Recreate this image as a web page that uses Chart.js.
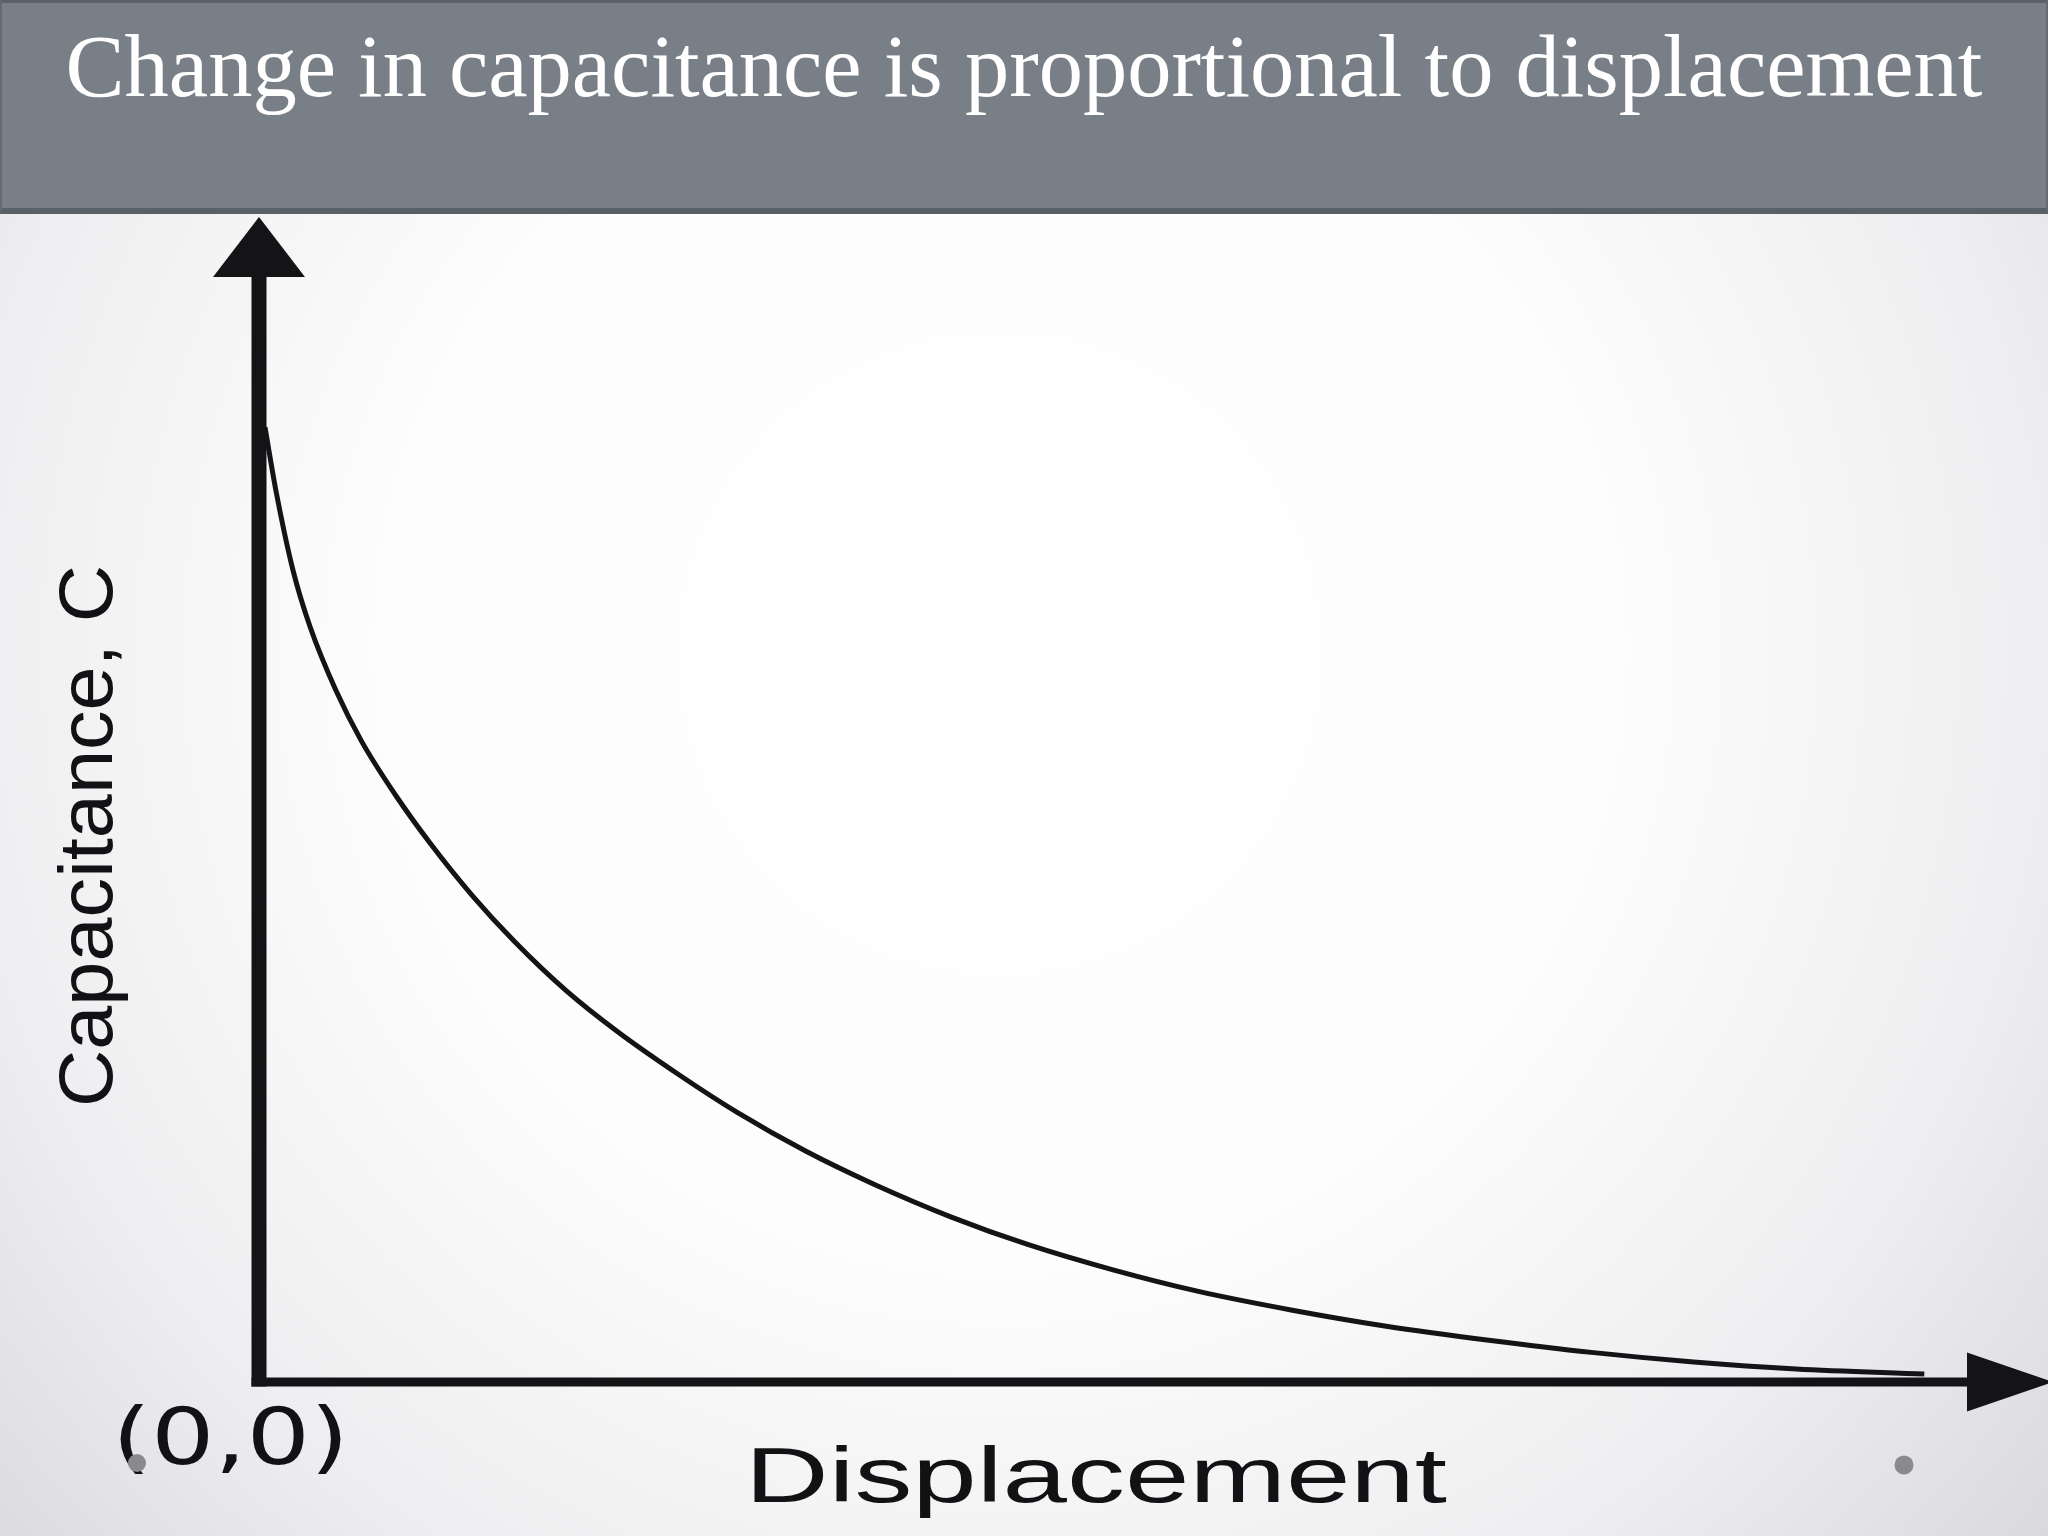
<!DOCTYPE html>
<html>
<head>
<meta charset="utf-8">
<script src="https://cdn.jsdelivr.net/npm/chart.js@4.4.0/dist/chart.umd.min.js"></script>
<style>
  html, body { margin: 0; padding: 0; width: 2048px; height: 1536px; overflow: hidden; background: #fff; }
  #slide { position: relative; width: 2048px; height: 1536px; }
  #titleBar {
    position: absolute; left: 0; top: 0; width: 2048px; height: 214px;
    box-sizing: border-box;
    background: #787f87;
    border-top: 3px solid #5b6168;
    border-bottom: 6px solid #596067;
    border-left: 2px solid #646a71;
    border-right: 2px solid #646a71;
    color: #ffffff;
    font-family: "Liberation Serif", "DejaVu Serif", serif;
    font-size: 88.5px;
    line-height: 88px;
    padding-top: 19px;
    text-align: center;
    white-space: nowrap;
    z-index: 2;
  }
  #chart3 { position: absolute; left: 0; top: 0; }
</style>
</head>
<body>
<div id="slide">
  <div id="titleBar">Change in capacitance is proportional to displacement</div>
  <canvas id="chart3" width="2048" height="1536"></canvas>
</div>
<script>
// displacement (0..100) and capacitance (0..100)
var displacement = [0.35, 1, 2, 3, 4.5, 6, 8, 10, 12.5, 15, 18, 21, 24.5, 28, 32, 36, 40.5, 45, 50, 55, 60.5, 66, 72, 78, 84, 90, 97.5];
var capacitance  = [86.4, 80.6, 73.4, 68.3, 62.6, 58.0, 53.1, 48.8, 44.0, 39.8, 35.4, 31.7, 27.9, 24.4, 20.9, 17.9, 14.95, 12.45, 10.15, 8.2, 6.5, 5.05, 3.78, 2.68, 1.81, 1.18, 0.72];

var yLabel = 'Capacitance, C';
var xLabel = 'Displacement';
var originLabel = '(0,0)';

var points = displacement.map(function(d, i) { return {x: d, y: capacitance[i]} });

// slide background
var backdrop = {
  id: 'backdrop',
  beforeDraw: function(chart) {
    var ctx = chart.ctx;
    var g = ctx.createRadialGradient(1000, 650, 0, 1000, 650, 1450);
    g.addColorStop(0, '#ffffff');
    g.addColorStop(0.42, '#fdfdfe');
    g.addColorStop(0.72, '#eeeef0');
    g.addColorStop(1, '#d5d5d8');
    ctx.save();
    ctx.fillStyle = g;
    ctx.fillRect(0, 0, chart.width, chart.height);
    ctx.restore();
  }
};

// thick axes with arrow heads, placed from the scales
var arrowAxes = {
  id: 'arrowAxes',
  afterDatasetsDraw: function(chart) {
    var ctx = chart.ctx;
    var xs = chart.scales.x, ys = chart.scales.y;
    var x0 = xs.getPixelForValue(0), y0 = ys.getPixelForValue(0);
    var xEnd = xs.getPixelForValue(100), yEnd = ys.getPixelForValue(100);
    ctx.save();
    ctx.fillStyle = '#141416';
    // y shaft + head
    ctx.fillRect(x0 - 7.5, yEnd, 15, y0 + 4.5 - yEnd);
    ctx.beginPath();
    ctx.moveTo(x0 - 46, yEnd);
    ctx.lineTo(x0 + 46, yEnd);
    ctx.lineTo(x0, yEnd - 60);
    ctx.closePath();
    ctx.fill();
    // x shaft + head
    ctx.fillRect(x0 - 7.5, y0 - 4.5, xEnd - x0 + 7.5, 9);
    ctx.beginPath();
    ctx.moveTo(xEnd, y0 - 29.5);
    ctx.lineTo(xEnd, y0 + 29.5);
    ctx.lineTo(xEnd + 86, y0);
    ctx.closePath();
    ctx.fill();
    ctx.restore();
  }
};

function stretchText(ctx, text, x, y, width) {
  var w = ctx.measureText(text).width;
  ctx.save();
  ctx.translate(x, y);
  ctx.scale(width / w, 1);
  ctx.fillText(text, 0, 0);
  ctx.restore();
}

var labels = {
  id: 'labels',
  afterDraw: function(chart) {
    var ctx = chart.ctx;
    ctx.save();
    ctx.fillStyle = '#121214';
    ctx.textBaseline = 'alphabetic';
    ctx.textAlign = 'left';

    // y label, rotated
    ctx.save();
    ctx.translate(112, 1107);
    ctx.rotate(-Math.PI / 2);
    ctx.font = '76px "Liberation Sans", Arial, sans-serif';
    stretchText(ctx, yLabel, 0, 0, 542);
    ctx.restore();

    ctx.font = '78px "DejaVu Sans", sans-serif';
    stretchText(ctx, originLabel, 112, 1464, 237);

    ctx.font = '78px "Liberation Sans", Arial, sans-serif';
    stretchText(ctx, xLabel, 745, 1502, 702);

    // bullet dots
    ctx.fillStyle = '#8a8a8c';
    ctx.beginPath();
    ctx.arc(137, 1463, 9, 0, Math.PI * 2);
    ctx.fill();
    ctx.beginPath();
    ctx.arc(1904, 1465, 9.5, 0, Math.PI * 2);
    ctx.fill();
    ctx.restore();
  }
};

const chart3Context = document.getElementById('chart3').getContext('2d');
new Chart(chart3Context, {
  type: 'line',
  data: {
    datasets: [{
      data: points,
      borderColor: '#141416',
      borderWidth: 5,
      pointRadius: 0,
      fill: false,
      cubicInterpolationMode: 'monotone'
    }]
  },
  options: {
    responsive: false,
    animation: false,
    devicePixelRatio: 1,
    layout: {
      padding: { left: 259, right: 81, top: 277, bottom: 154 }
    },
    scales: {
      x: { type: 'linear', min: 0, max: 100, display: false },
      y: { type: 'linear', min: 0, max: 100, display: false }
    },
    plugins: {
      legend: { display: false },
      tooltip: { enabled: false }
    }
  },
  plugins: [backdrop, arrowAxes, labels]
});
</script>
</body>
</html>
